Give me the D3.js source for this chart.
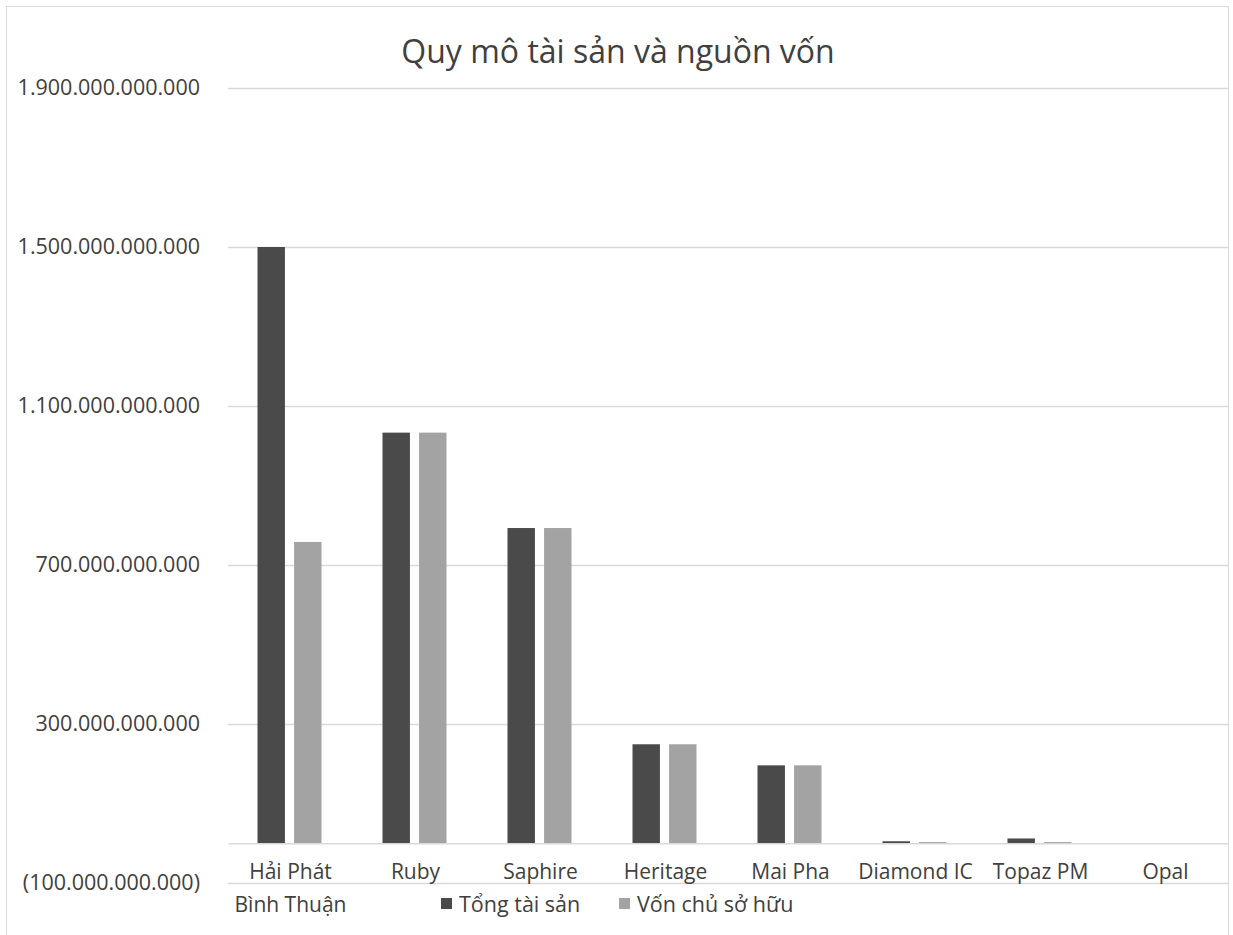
<!DOCTYPE html>
<html>
<head>
<meta charset="utf-8">
<script src="https://cdn.jsdelivr.net/npm/d3@7"></script>
<style>
  body { margin: 0; background: #fff; }
  text { font-family: "Open Sans", "Noto Sans", sans-serif; fill: #404040; }
</style>
</head>
<body>
<script>
"use strict";

let width = 1233;
let height = 935;

// data (VND)
let categories = ["Hải Phát Bình Thuận", "Ruby", "Saphire", "Heritage", "Mai Pha", "Diamond IC", "Topaz PM", "Opal"];
let seriesNames = ["Tổng tài sản", "Vốn chủ sở hữu"];
let tongTaiSan = [1500e9, 1033e9, 793e9, 249e9, 196e9, 5e9, 12e9, 0];
let vonChuSoHuu = [758e9, 1033e9, 793e9, 249e9, 196e9, 3e9, 3e9, 0];
let yTicks = [-100e9, 300e9, 700e9, 1100e9, 1500e9, 1900e9];

let seriesValues = [tongTaiSan, vonChuSoHuu];
let colors = ["#4a4a4a", "#a3a3a3"];

let vn = d3.formatLocale({ decimal: ",", thousands: ".", grouping: [3], currency: ["", ""] });
let fmt = function (v) {
  let s = vn.format(",.0f")(Math.abs(v));
  return v < 0 ? "(" + s + ")" : s;
};

let svg = d3.select("body").append("svg").attr("width", width).attr("height", height);

// chart border
svg.append("rect")
  .attr("x", 6.5).attr("y", 6.5)
  .attr("width", 1222).attr("height", 940)
  .attr("fill", "none")
  .attr("stroke", "#d9d9d9");

svg.append("text")
  .attr("x", 618)
  .attr("y", 63)
  .attr("text-anchor", "middle")
  .style("font-size", "32px")
  .text("Quy mô tài sản và nguồn vốn");

let y = d3.scaleLinear()
  .domain([-100e9, 1900e9])
  .range([883, 88]);

let x0 = d3.scaleBand()
  .domain(categories)
  .range([228, 1228]);

let x1 = d3.scaleBand()
  .domain(seriesNames)
  .range([29.5, 93.5])
  .paddingInner(0.25);

// y axis: gridlines + labels
let yAxis = svg.append("g")
  .attr("transform", "translate(228,0)")
  .call(d3.axisLeft(y).tickValues(yTicks).tickFormat(fmt).tickSize(-1000).tickPadding(28));
yAxis.select(".domain").remove();
yAxis.selectAll(".tick line").attr("stroke", "#d9d9d9").attr("stroke-width", 1.3);
yAxis.selectAll(".tick text")
  .attr("fill", "#404040")
  .style("font-size", "21.5px")
  .style("font-family", "'Open Sans', 'Noto Sans', sans-serif");

// bars
let groups = svg.append("g")
  .selectAll("g")
  .data(categories)
  .enter()
  .append("g")
  .attr("transform", function (d) { return "translate(" + x0(d) + ",0)"; });

groups.selectAll("rect")
  .data(function (d, i) {
    return seriesNames.map(function (s, j) { return { s: s, v: seriesValues[j][i], j: j }; });
  })
  .enter()
  .append("rect")
  .attr("x", function (d) { return x1(d.s); })
  .attr("width", x1.bandwidth())
  .attr("y", function (d) { return Math.min(y(d.v), y(0)); })
  .attr("height", function (d) { return Math.abs(y(d.v) - y(0)); })
  .attr("fill", function (d) { return colors[d.j]; });

// category axis at zero
let xAxis = svg.append("g")
  .attr("transform", "translate(0," + y(0) + ")")
  .call(d3.axisBottom(x0).tickSize(0).tickPadding(21));
xAxis.select(".domain").attr("stroke", "#d9d9d9").attr("stroke-width", 1.3);
xAxis.selectAll(".tick text")
  .attr("fill", "#404040")
  .style("font-size", "21px")
  .style("font-family", "'Open Sans', 'Noto Sans', sans-serif")
  .call(wrap, x0.bandwidth() - 6);

function wrap(texts, w) {
  texts.each(function () {
    let text = d3.select(this);
    let words = text.text().split(/\s+/);
    let yAttr = text.attr("y");
    let dy = parseFloat(text.attr("dy"));
    let line = [];
    let lineNo = 0;
    let tspan = text.text(null).append("tspan").attr("x", 0).attr("y", yAttr).attr("dy", dy + "em");
    words.forEach(function (word) {
      line.push(word);
      tspan.text(line.join(" "));
      if (tspan.node().getComputedTextLength() > w && line.length > 1) {
        line.pop();
        tspan.text(line.join(" "));
        line = [word];
        lineNo++;
        tspan = text.append("tspan").attr("x", 0).attr("y", yAttr)
          .attr("dy", (dy + lineNo * 1.55) + "em").text(word);
      }
    });
  });
}

// legend
let legend = svg.append("g").attr("transform", "translate(441,904)");
let legendX = [0, 178];
seriesNames.forEach(function (s, j) {
  let item = legend.append("g").attr("transform", "translate(" + legendX[j] + ",0)");
  item.append("rect")
    .attr("x", 0).attr("y", -6)
    .attr("width", 11).attr("height", 11)
    .attr("fill", colors[j]);
  item.append("text")
    .attr("x", 18)
    .attr("y", 8)
    .style("font-size", "21.5px")
    .text(s);
});
</script>
</body>
</html>
